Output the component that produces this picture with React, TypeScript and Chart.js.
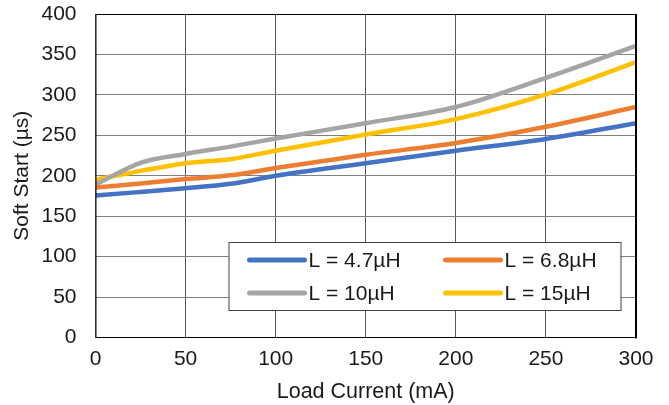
import React, { useEffect, useRef } from "react";
import { Chart, registerables } from "chart.js";

Chart.register(...registerables);

const loadCurrent = [0, 25, 50, 75, 100, 150, 200, 250, 300];
const l47 = [175.5, 180, 184.5, 190, 200, 215.5, 231, 245.5, 265];
const l68 = [185.5, 190.5, 196, 200.5, 209.5, 226, 240.5, 260.5, 285];
const l10 = [189, 216, 227, 236, 246, 265, 285, 321, 360.5];
const l15 = [195, 206, 215.5, 220.5, 231, 251, 270, 300.5, 340.5];
const seriesNames = ["L = 4.7\u00b5H", "L = 6.8\u00b5H", "L = 10\u00b5H", "L = 15\u00b5H"];
const seriesColors = ["#4472C4", "#ED7D31", "#A5A5A5", "#FFC000"];
const xTicks = [0, 50, 100, 150, 200, 250, 300];
const yTicks = [0, 50, 100, 150, 200, 250, 300, 350, 400];

const FONT = "'Liberation Sans', Arial, sans-serif";

const legendPlugin = {
  id: "boxLegend",
  afterDraw(chart: any) {
    const ctx = chart.ctx;
    const a = chart.chartArea;
    ctx.save();
    ctx.strokeStyle = "#000";
    ctx.lineWidth = 1;
    ctx.beginPath();
    ctx.moveTo(a.left + 0.5, a.top + 0.5);
    ctx.lineTo(a.right, a.top + 0.5);
    ctx.moveTo(a.left + 0.5, a.top);
    ctx.lineTo(a.left + 0.5, a.bottom);
    ctx.lineTo(a.right, a.bottom);
    ctx.stroke();
    ctx.lineWidth = 2;
    ctx.beginPath();
    ctx.moveTo(a.right, a.top);
    ctx.lineTo(a.right, a.bottom + 1);
    ctx.stroke();

    const bx = a.left + 133;
    const by = a.top + 228;
    const bw = 392;
    const bh = 68;
    ctx.fillStyle = "#fff";
    ctx.fillRect(bx, by, bw, bh);
    ctx.strokeStyle = "#404040";
    ctx.lineWidth = 1;
    ctx.strokeRect(bx + 0.5, by + 0.5, bw, bh);
    const cols = [bx + 21, bx + 217];
    const rows = [by + 18, by + 51];
    ctx.font = `21px ${FONT}`;
    ctx.textBaseline = "middle";
    ctx.textAlign = "left";
    for (let i = 0; i < 4; i++) {
      const cx = cols[i % 2];
      const cy = rows[Math.floor(i / 2)];
      ctx.strokeStyle = seriesColors[i];
      ctx.lineWidth = 5;
      ctx.lineCap = "round";
      ctx.beginPath();
      ctx.moveTo(cx, cy);
      ctx.lineTo(cx + 55, cy);
      ctx.stroke();
      ctx.fillStyle = "#1a1a1a";
      ctx.fillText(seriesNames[i], cx + 59, cy + 1);
    }
    ctx.restore();
  },
};

export default function App() {
  const ref = useRef<HTMLCanvasElement | null>(null);
  useEffect(() => {
    document.body.style.margin = "0";
    const series = [l47, l68, l10, l15];
    const chart = new Chart(ref.current as HTMLCanvasElement, {
      type: "line",
      data: {
        datasets: series.map((s, i) => ({
          label: seriesNames[i],
          data: s.map((v, j) => ({ x: loadCurrent[j], y: v })),
          borderColor: seriesColors[i],
          backgroundColor: seriesColors[i],
          borderWidth: 4.5,
          pointRadius: 0,
          tension: 0.35,
          cubicInterpolationMode: "monotone" as const,
          borderCapStyle: "round" as const,
        })),
      },
      options: {
        responsive: false,
        animation: false,
        layout: { padding: { top: 14, right: 33, left: 0, bottom: 0 } },
        plugins: { legend: { display: false }, tooltip: { enabled: false } },
        scales: {
          x: {
            type: "linear",
            min: 0,
            max: 300,
            afterBuildTicks: (s: any) => {
              s.ticks = xTicks.map((v) => ({ value: v }));
            },
            afterFit: (s: any) => {
              s.height = 67.5;
              s.paddingLeft = 0;
              s.paddingRight = 0;
            },
            grid: { color: "#5a5a5a", lineWidth: 1, drawTicks: false },
            border: { display: false },
            ticks: { color: "#1a1a1a", font: { family: FONT, size: 21 }, padding: 9, maxRotation: 0 },
            title: {
              display: true,
              text: "Load Current (mA)",
              color: "#1a1a1a",
              font: { family: FONT, size: 21.5 },
              padding: { top: 1, bottom: 0 },
            },
          },
          y: {
            min: 0,
            max: 400,
            afterBuildTicks: (s: any) => {
              s.ticks = yTicks.map((v) => ({ value: v }));
            },
            afterFit: (s: any) => {
              s.width = 95.5;
              s.paddingTop = 0;
              s.paddingBottom = 0;
            },
            grid: { color: "#7f7f7f", lineWidth: 1, drawTicks: false },
            border: { display: false },
            ticks: { color: "#1a1a1a", font: { family: FONT, size: 21 }, padding: 19 },
            title: {
              display: true,
              text: "Soft Start (\u00b5s)",
              color: "#1a1a1a",
              font: { family: FONT, size: 21 },
              padding: { top: 10, bottom: 0 },
            },
          },
        },
      },
      plugins: [legendPlugin],
    } as any);
    return () => chart.destroy();
  }, []);
  return (
    <div style={{ position: "absolute", left: 0, top: 0, width: 669, height: 405 }}>
      <canvas ref={ref} width={669} height={405} />
    </div>
  );
}
